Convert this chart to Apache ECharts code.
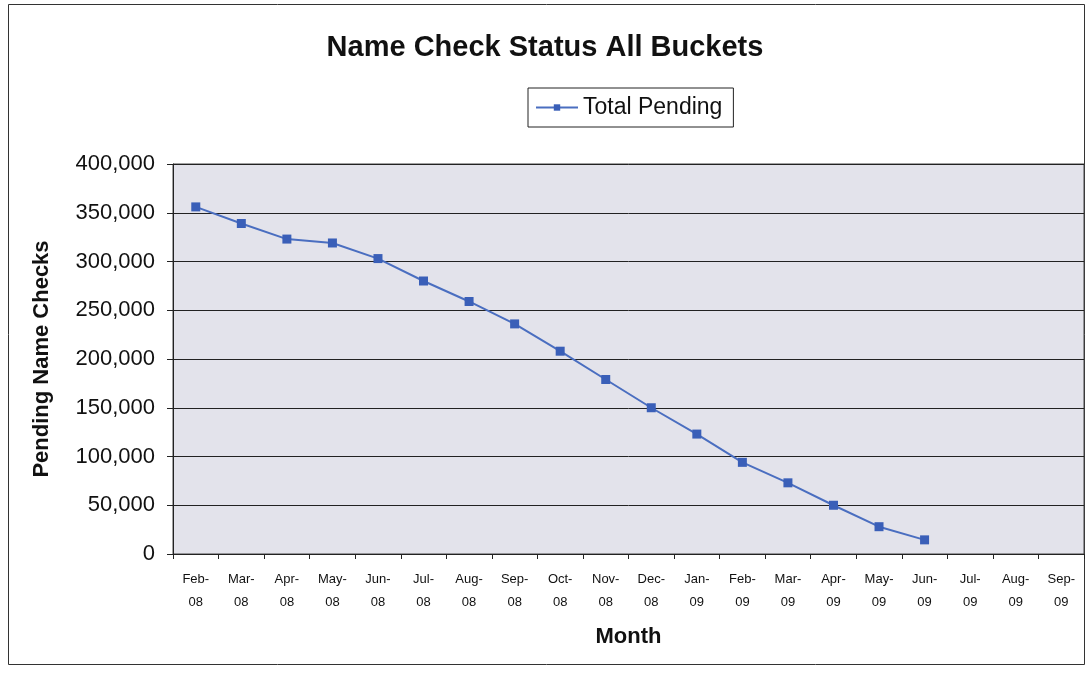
<!DOCTYPE html>
<html>
<head>
<meta charset="utf-8">
<script src="https://cdn.jsdelivr.net/npm/echarts@6/dist/echarts.min.js"></script>
<style>
html,body{margin:0;padding:0;background:#fff;}
#c{width:1090px;height:675px;}
</style>
</head>
<body>
<div id="c"></div>
<script>
const months = ["Feb-\n08","Mar-\n08","Apr-\n08","May-\n08","Jun-\n08","Jul-\n08","Aug-\n08","Sep-\n08","Oct-\n08","Nov-\n08","Dec-\n08","Jan-\n09","Feb-\n09","Mar-\n09","Apr-\n09","May-\n09","Jun-\n09","Jul-\n09","Aug-\n09","Sep-\n09"];
const totalPending = [356000,339000,323000,319000,303000,280000,259000,236000,208000,179000,150000,123000,94000,73000,50000,28000,14500,null,null,null];
const yTicks = {min:0, max:400000, interval:50000};

const chart = echarts.init(document.getElementById('c'), null, {renderer:'canvas'});
const font = "'Liberation Sans', Arial, sans-serif";
chart.setOption({
  animation:false,
  backgroundColor:'#fff',
  textStyle:{fontFamily:font},
  graphic:[{type:'rect', shape:{x:8.5,y:4.5,width:1076,height:660}, style:{fill:null, stroke:'#333', lineWidth:1}, silent:true, z:-1}],
  title:{
    text:'Name Check Status All Buckets',
    left:'center', top:28,
    textStyle:{fontFamily:font, fontSize:29, fontWeight:'bold', color:'#111'}
  },
  legend:{
    top:88, left:528,
    data:['Total Pending'],
    backgroundColor:'#fff',
    borderColor:'#222', borderWidth:1,
    padding:[8,11,8,7],
    itemWidth:42, itemHeight:8, itemGap:6,
    textStyle:{fontFamily:font, fontSize:23, color:'#111'}
  },
  grid:{left:173, right:6, top:164, bottom:121, show:true, backgroundColor:'#e3e3eb', borderColor:'#444', borderWidth:1},
  xAxis:{
    type:'category',
    data:months,
    boundaryGap:true,
    name:'Month', nameLocation:'middle', nameGap:72,
    nameTextStyle:{fontFamily:font, fontSize:22, fontWeight:'bold', color:'#111'},
    axisLine:{show:true, lineStyle:{color:'#222', width:1}},
    axisTick:{show:true, alignWithLabel:false, length:5, lineStyle:{color:'#222'}},
    axisLabel:{fontFamily:font, fontSize:13, color:'#111', interval:0, lineHeight:23, margin:14},
    splitLine:{show:false}
  },
  yAxis:{
    type:'value',
    min:yTicks.min, max:yTicks.max, interval:yTicks.interval,
    name:'Pending Name Checks', nameLocation:'middle', nameGap:120,
    nameTextStyle:{fontFamily:font, fontSize:22, fontWeight:'bold', color:'#111'},
    axisLine:{show:true, lineStyle:{color:'#222', width:1}},
    axisTick:{show:true, length:6, lineStyle:{color:'#222'}},
    axisLabel:{fontFamily:font, fontSize:22, color:'#111', margin:18,
      formatter:v=>v.toLocaleString('en-US')},
    splitLine:{show:true, lineStyle:{color:'#222', width:1}}
  },
  series:[{
    name:'Total Pending',
    type:'line',
    data:totalPending,
    symbol:'rect', symbolSize:9,
    itemStyle:{color:'#3a5fb8'},
    lineStyle:{color:'#4a6ec0', width:2},
    connectNulls:false
  }]
});
</script>
</body>
</html>
